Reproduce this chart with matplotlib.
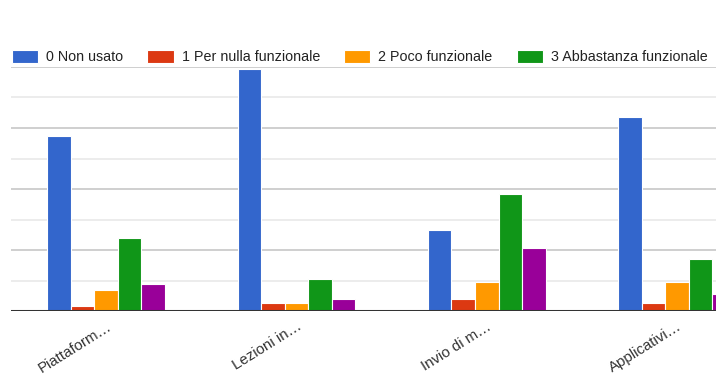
import numpy as np
import matplotlib
matplotlib.use("Agg")
from matplotlib import pyplot as plt

plt.rcParams['font.family'] = ['Liberation Sans', 'DejaVu Sans']

categories = ['Piattaform…', 'Lezioni in…', 'Invio di m…', 'Applicativi…']
series_names = ['0 Non usato', '1 Per nulla funzionale', '2 Poco funzionale',
                '3 Abbastanza funzionale', '4 Molto funzionale']
colors = ['#3366cc', '#dc3912', '#ff9900', '#109618', '#990099']

non_usato = [115, 159, 53, 127]
per_nulla = [3, 5, 8, 5]
poco = [14, 5, 19, 19]
abbastanza = [48, 21, 77, 34]
molto = [18, 8, 41, 11]
values = [non_usato, per_nulla, poco, abbastanza, molto]

fig = plt.figure(figsize=(7.16, 3.76), dpi=100)
ax = fig.add_axes([11 / 716, (376 - 311) / 376, 1 - 11 / 716, (311 - 67) / 376])

x = np.arange(len(categories))
w = 0.1235
bars = []
for i, (vals, name, c) in enumerate(zip(values, series_names, colors)):
    b = ax.bar(x + (i - 2) * w, vals, width=w, color=c, edgecolor='white',
               linewidth=0.8, label=name, zorder=3)
    bars.append(b)

# chart continues past the right edge of the picture
ax.set_xlim(-0.5, (716 - 11) / 190.3 - 0.5)
ax.set_ylim(0, 160)

# gridlines: darker every 40, lighter in between
for v in range(20, 161, 20):
    col = '#cccccc' if v % 40 == 0 else '#ebebeb'
    ax.axhline(v, color=col, linewidth=1.3, zorder=1)
ax.axhline(0, color='#333333', linewidth=2.2, zorder=4)

for s in ax.spines.values():
    s.set_visible(False)
ax.set_yticks([])
ax.set_xticks(x)
ax.set_xticklabels(categories, rotation=32, ha='right', rotation_mode='anchor',
                   fontsize=10.8, color='#333333')
ax.tick_params(axis='x', length=0, pad=6)

# the last legend entry falls outside the picture in the original
fig.legend(bars[:4], series_names[:4], loc='upper left',
           bbox_to_anchor=(12 / 716, 1 - 50 / 376), ncol=4,
           frameon=False, fontsize=10.3, handlelength=1.82, handleheight=0.97,
           handletextpad=0.56, columnspacing=1.7, borderaxespad=0, borderpad=0,
           labelcolor='#222222')

fig.savefig('out.png', dpi=100)
